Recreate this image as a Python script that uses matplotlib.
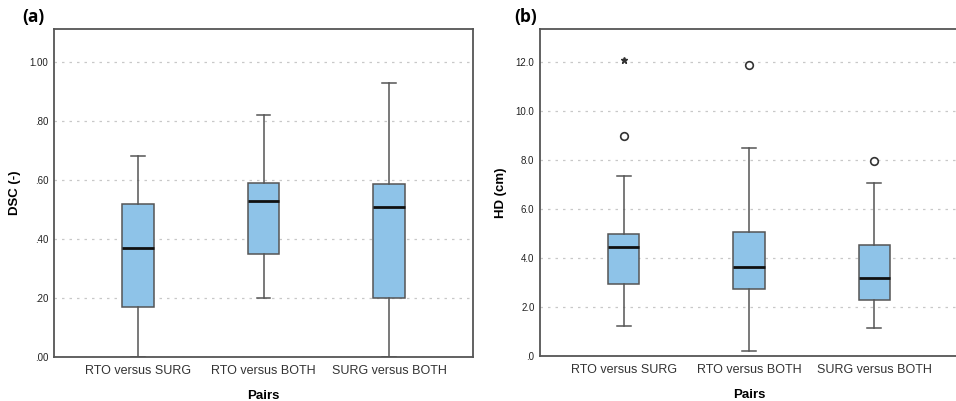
import matplotlib
matplotlib.use("Agg")
import matplotlib.pyplot as plt
from matplotlib.lines import Line2D

plt.rcParams['font.family'] = ['Liberation Sans', 'DejaVu Sans']

categories = ["RTO versus SURG", "RTO versus BOTH", "SURG versus BOTH"]

# Panel (a) DSC
dsc_whislo = [0.00, 0.20, 0.00]
dsc_q1 = [0.17, 0.35, 0.20]
dsc_med = [0.37, 0.53, 0.51]
dsc_q3 = [0.52, 0.59, 0.585]
dsc_whishi = [0.68, 0.82, 0.93]
dsc_circles = [[], [], []]
dsc_stars = [[], [], []]
dsc_ticks = [0.0, 0.2, 0.4, 0.6, 0.8, 1.0]
dsc_ticklabels = [".00", ".20", ".40", ".60", ".80", "1.00"]

# Panel (b) HD
hd_whislo = [1.24, 0.20, 1.14]
hd_q1 = [2.93, 2.73, 2.27]
hd_med = [4.46, 3.65, 3.18]
hd_q3 = [4.98, 5.07, 4.52]
hd_whishi = [7.35, 8.48, 7.06]
hd_circles = [[8.99], [11.86], [7.95]]
hd_stars = [[12.08], [], []]
hd_ticks = [0, 2, 4, 6, 8, 10, 12]
hd_ticklabels = [".0", "2.0", "4.0", "6.0", "8.0", "10.0", "12.0"]

W, H = 956, 401
fig = plt.figure(figsize=(W / 100, H / 100), dpi=100)

box_color = "#8EC3E8"
edge = "#555555"


def panel(rect, whislo, q1, med, q3, whishi, circles, stars, ticks, ticklabels,
          ylim, ylabel, letter, letter_x):
    ax = fig.add_axes(rect)
    stats = []
    for i in range(len(categories)):
        stats.append(dict(whislo=whislo[i], q1=q1[i], med=med[i], q3=q3[i],
                          whishi=whishi[i], fliers=circles[i], label=categories[i]))
    ax.bxp(stats, positions=[1, 2, 3], widths=0.25, patch_artist=True,
           showfliers=True,
           boxprops=dict(facecolor=box_color, edgecolor=edge, linewidth=1.1),
           medianprops=dict(color="#111111", linewidth=2.0),
           whiskerprops=dict(color=edge, linewidth=1.1),
           capprops=dict(color=edge, linewidth=1.1),
           capwidths=0.11,
           flierprops=dict(marker='o', markersize=5.5, markerfacecolor='white',
                           markeredgecolor='#333333', markeredgewidth=1.2),
           zorder=3)
    for i, s in enumerate(stars):
        if s:
            ax.plot([i + 1] * len(s), s, linestyle='none', marker='*',
                    markersize=5, color='#333333', zorder=4)
    ax.set_xlim(0.33, 3.67)
    ax.set_ylim(*ylim)
    ax.set_yticks(ticks)
    ax.set_yticklabels(ticklabels)
    ax.yaxis.grid(True, linestyle=(0, (2, 4)), color="#c8c8c8", linewidth=0.9, zorder=0)
    ax.set_axisbelow(True)
    ax.tick_params(axis='y', length=0, pad=4, labelsize=7, labelcolor="#222222")
    ax.tick_params(axis='x', length=0, pad=6, labelsize=9, labelcolor="#333333")
    for sp in ax.spines.values():
        sp.set_color(edge)
        sp.set_linewidth(1.3)
    ax.set_xlabel("Pairs", fontsize=9.5, fontweight='bold', labelpad=9)
    ax.set_ylabel(ylabel, fontsize=9.5, fontweight='bold', labelpad=6)
    fig.text(letter_x, 1 - 17 / H, letter, fontsize=12.5, fontweight='bold',
             ha='left', va='center', family=['Open Sans', 'DejaVu Sans'])
    return ax


# panel (a): x 54..473, y 29..357
panel([54 / W, 1 - 357 / H, (473 - 54) / W, (357 - 29) / H],
      dsc_whislo, dsc_q1, dsc_med, dsc_q3, dsc_whishi, dsc_circles, dsc_stars,
      dsc_ticks, dsc_ticklabels, (0, 1.112), "DSC (-)", "(a)", 22 / W)

# panel (b): x 540..958, y 29..356
panel([540 / W, 1 - 356 / H, (958 - 540) / W, (356 - 29) / H],
      hd_whislo, hd_q1, hd_med, hd_q3, hd_whishi, hd_circles, hd_stars,
      hd_ticks, hd_ticklabels, (0, 13.35), "HD (cm)", "(b)", 514 / W)

fig.savefig("out.png", dpi=100)
